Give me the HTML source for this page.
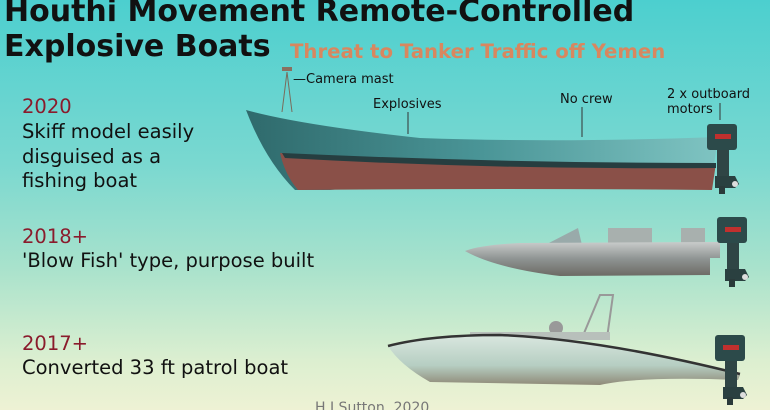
<!DOCTYPE html>
<html><head><meta charset="utf-8"><style>
html,body{margin:0;padding:0;width:770px;height:410px;overflow:hidden}
#bg{position:absolute;left:0;top:0;width:770px;height:410px;overflow:hidden;font-family:"Liberation Sans","DejaVu Sans",sans-serif;
background:linear-gradient(180deg,#4ccfcf 0%,#7ad8d0 40%,#a8e2cc 65%,#dcefd0 88%,#eef2d4 100%)}
.t{position:absolute;font-weight:bold;color:#111;font-size:30px;white-space:nowrap;font-family:"DejaVu Sans",sans-serif}
.s{position:absolute;color:#d8875f;font-weight:bold;font-size:19.7px;white-space:nowrap;font-family:"DejaVu Sans",sans-serif}
.y{position:absolute;color:#8a1b2c;font-size:19.5px;left:22px;font-family:"DejaVu Sans",sans-serif}
.l{position:absolute;color:#111;font-size:19.5px;left:22px;line-height:24.5px;font-family:"DejaVu Sans",sans-serif;white-space:nowrap}
.a{position:absolute;font-size:13px;color:#111;font-family:"DejaVu Sans",sans-serif;line-height:15px;white-space:nowrap}
</style></head><body><div id="bg">
<div class="t" style="left:4px;top:-6px">Houthi Movement Remote-Controlled</div>
<div class="t" style="left:4px;top:29px">Explosive Boats</div>
<div class="s" style="left:290px;top:40px">Threat to Tanker Traffic off Yemen</div>

<div class="y" style="top:95px">2020</div>
<div class="l" style="top:120px">Skiff model easily<br>disguised as a<br>fishing boat</div>
<div class="y" style="top:225px">2018+</div>
<div class="l" style="top:249px">'Blow Fish' type, purpose built</div>
<div class="y" style="top:332px">2017+</div>
<div class="l" style="top:356px">Converted 33 ft patrol boat</div>
<div class="a" style="left:315px;top:401px;color:#777;font-size:14px">H I Sutton, 2020</div>

<div class="a" style="left:293px;top:72px">—Camera mast</div>
<div class="a" style="left:373px;top:97px">Explosives</div>
<div class="a" style="left:560px;top:92px">No crew</div>
<div class="a" style="left:667px;top:87px">2 x outboard<br>motors</div>

<svg width="770" height="410" style="position:absolute;left:0;top:0">
<defs>
<linearGradient id="hull1" x1="0" y1="0" x2="1" y2="0"><stop offset="0" stop-color="#2f6a6c"/><stop offset="0.5" stop-color="#4a9597"/><stop offset="1" stop-color="#7fc4c2"/></linearGradient>
<linearGradient id="grey" x1="0" y1="0" x2="0" y2="1"><stop offset="0" stop-color="#c9cccb"/><stop offset="0.5" stop-color="#8e9392"/><stop offset="1" stop-color="#6c6a64"/></linearGradient>
<linearGradient id="pat" x1="0" y1="0" x2="0" y2="1"><stop offset="0" stop-color="#d8e6de"/><stop offset="0.6" stop-color="#b6cec2"/><stop offset="1" stop-color="#8f8a78"/></linearGradient>
<g id="mot">
<rect x="0" y="0" width="30" height="26" rx="3" fill="#2c4a4a"/>
<rect x="8" y="10" width="16" height="5" fill="#c0302e"/>
<rect x="10" y="26" width="12" height="30" fill="#2f4545"/>
<path d="M8 52 h20 l4 8 -4 4 h-20z" fill="#2a4040"/>
<circle cx="28" cy="60" r="3" fill="#ddd"/>
<rect x="12" y="62" width="6" height="8" fill="#2a3a3a"/>
</g>
</defs>
<path d="M287 72 L282 112 M287 72 L292 112" stroke="#7a6a5a" stroke-width="1" fill="none"/>
<rect x="282" y="67" width="10" height="4" fill="#8a7060"/>
<path d="M246 110 Q300 125 420 138 Q560 143 718 137 L714 165 Q500 172 330 190 L295 190 Q265 160 246 110Z" fill="url(#hull1)"/>
<path d="M280 153 Q500 168 716 163 L712 190 Q500 188 298 190 Q285 175 280 153Z" fill="#8a5048"/>
<path d="M282 153 Q500 163 716 163 L716 168 Q500 170 285 158Z" fill="#263e40"/>
<line x1="408" y1="112" x2="408" y2="134" stroke="#333"/>
<line x1="582" y1="107" x2="582" y2="137" stroke="#333"/>
<line x1="720" y1="103" x2="720" y2="120" stroke="#333"/>
<use href="#mot" x="707" y="124"/>
<path d="M545 245 L578 228 L582 245Z" fill="#9aa"/>
<rect x="608" y="228" width="44" height="15" fill="#a8b0ae"/>
<rect x="681" y="228" width="24" height="15" fill="#a8b0ae"/>
<path d="M465 251 Q480 245 520 243 L720 242 L720 258 L710 258 L710 275 L560 276 Q495 268 465 251Z" fill="url(#grey)"/>
<use href="#mot" x="717" y="217"/>
<path d="M582 338 L600 295 L613 295 L607 338" stroke="#999" stroke-width="2" fill="none"/>
<circle cx="556" cy="328" r="7" fill="#999"/>
<rect x="470" y="332" width="140" height="8" fill="#b8c0bb"/>
<path d="M388 346 Q430 336 500 336 Q600 340 740 375 L738 380 Q640 376 600 385 L430 382 Q400 365 388 346Z" fill="url(#pat)"/>
<path d="M388 346 Q430 335 500 335 Q600 339 740 374" stroke="#333" stroke-width="2.5" fill="none"/>
<use href="#mot" x="715" y="335"/>
</svg>
</div></body></html>
